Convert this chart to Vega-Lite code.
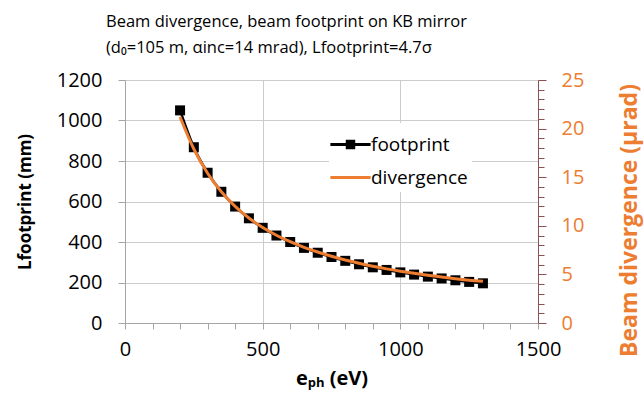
{
  "$schema": "https://vega.github.io/schema/vega-lite/v6.json",
  "width": 413,
  "height": 243,
  "autosize": {"type": "none"},
  "padding": {"left": 125, "top": 80, "right": 106, "bottom": 84},
  "background": "white",
  "title": {
    "text": ["Beam divergence, beam footprint on KB mirror", "(d₀=105 m, αinc=14 mrad), Lfootprint=4.7σ"],
    "anchor": "start",
    "frame": "group",
    "dx": -19,
    "offset": 14,
    "font": "Open Sans",
    "fontSize": 16.5,
    "fontWeight": "normal",
    "lineHeight": 26,
    "color": "#000000"
  },
  "config": {"view": {"stroke": null}},
  "datasets": {
    "main": [
      {"e": 200, "footprint": 1050, "divergence": 21.2},
      {"e": 250, "footprint": 868, "divergence": 17.9},
      {"e": 300, "footprint": 742, "divergence": 15.4},
      {"e": 350, "footprint": 648, "divergence": 13.5},
      {"e": 400, "footprint": 575, "divergence": 12.0},
      {"e": 450, "footprint": 517, "divergence": 10.8},
      {"e": 500, "footprint": 470, "divergence": 9.82},
      {"e": 550, "footprint": 432, "divergence": 9.03},
      {"e": 600, "footprint": 400, "divergence": 8.37},
      {"e": 650, "footprint": 371, "divergence": 7.79},
      {"e": 700, "footprint": 347, "divergence": 7.3},
      {"e": 750, "footprint": 326, "divergence": 6.87},
      {"e": 800, "footprint": 307, "divergence": 6.48},
      {"e": 850, "footprint": 290, "divergence": 6.14},
      {"e": 900, "footprint": 275, "divergence": 5.84},
      {"e": 950, "footprint": 262, "divergence": 5.57},
      {"e": 1000, "footprint": 250, "divergence": 5.33},
      {"e": 1050, "footprint": 239, "divergence": 5.11},
      {"e": 1100, "footprint": 229, "divergence": 4.91},
      {"e": 1150, "footprint": 220, "divergence": 4.73},
      {"e": 1200, "footprint": 211, "divergence": 4.56},
      {"e": 1250, "footprint": 203, "divergence": 4.41},
      {"e": 1300, "footprint": 196, "divergence": 4.3}
    ],
    "leg": [
      {"series": "footprint", "e": 0, "footprint": 0},
      {"series": "divergence", "e": 0, "footprint": 0}
    ]
  },
  "layer": [
    {
      "layer": [
        {
          "data": {"name": "main"},
          "mark": {"type": "line", "color": "#000000", "strokeWidth": 2.5, "interpolate": "monotone"},
          "encoding": {
            "x": {
              "field": "e", "type": "quantitative",
              "scale": {"domain": [0, 1500], "nice": false, "zero": false},
              "axis": {
                "values": [0,100,200,300,400,500,600,700,800,900,1000,1100,1200,1300,1400,1500],
                "tickCount": 16,
                "format": "d",
                "labelExpr": "datum.value % 500 === 0 ? datum.label : ''",
                "labelOverlap": false,
                "labelFlush": false,
                "grid": true,
                "gridColor": "#cccccc",
                "gridOpacity": {"condition": {"test": "datum.value % 500 === 0", "value": 1}, "value": 0},
                "domainColor": "#a6a6a6",
                "tickColor": "#a6a6a6",
                "tickSize": 6,
                "labelFont": "Open Sans",
                "labelFontSize": 20,
                "labelColor": "#000000",
                "labelPadding": 10,
                "title": "eₚₕ (eV)",
                "titleFont": "Open Sans",
                "titleFontSize": 20,
                "titleFontWeight": "bold",
                "titleColor": "#000000",
                "titlePadding": 9
              }
            },
            "y": {
              "field": "footprint", "type": "quantitative",
              "scale": {"domain": [0, 1200], "nice": false},
              "axis": {
                "values": [0, 200, 400, 600, 800, 1000, 1200],
                "tickCount": 7,
                "format": "d",
                "grid": true,
                "gridColor": "#cccccc",
                "domainColor": "#a6a6a6",
                "tickColor": "#a6a6a6",
                "tickSize": 7,
                "labelFont": "Open Sans",
                "labelFontSize": 20,
                "labelColor": "#000000",
                "labelPadding": 16,
                "title": "Lfootprint (mm)",
                "titleFont": "Open Sans",
                "titleFontSize": 17,
                "titleFontWeight": "bold",
                "titleColor": "#000000",
                "titlePadding": 22
              }
            }
          }
        },
        {
          "data": {"name": "main"},
          "mark": {"type": "point", "shape": "square", "filled": true, "size": 100, "color": "#000000", "opacity": 1},
          "encoding": {
            "x": {"field": "e", "type": "quantitative"},
            "y": {"field": "footprint", "type": "quantitative"}
          }
        },
        {
          "data": {"name": "leg"},
          "transform": [{"filter": "false"}],
          "mark": {"type": "point", "filled": true, "opacity": 1},
          "encoding": {
            "x": {"field": "e", "type": "quantitative"},
            "y": {"field": "footprint", "type": "quantitative"},
            "color": {
              "field": "series", "type": "nominal",
              "scale": {"domain": ["footprint", "divergence"], "range": ["#000000", "#ED7D31"]},
              "legend": {
                "title": null, "orient": "none", "legendX": 204, "legendY": 43,
                "fillColor": "white", "padding": 4, "symbolSize": 1225, "symbolStrokeWidth": 0,
                "symbolOpacity": 1, "labelFont": "Open Sans", "labelFontSize": 19,
                "labelColor": "#000000", "rowPadding": 5, "labelOffset": 3
              }
            },
            "shape": {
              "field": "series", "type": "nominal",
              "scale": {"domain": ["footprint", "divergence"], "range": ["M-1.15,-0.08H1.15V0.08H-1.15Z M-0.27,-0.27H0.27V0.27H-0.27Z", "M-1.15,-0.09H1.15V0.09H-1.15Z"]},
              "legend": {
                "title": null, "orient": "none", "legendX": 204, "legendY": 43,
                "fillColor": "white", "padding": 4, "symbolSize": 1225, "symbolStrokeWidth": 0,
                "symbolOpacity": 1, "labelFont": "Open Sans", "labelFontSize": 19,
                "labelColor": "#000000", "rowPadding": 5, "labelOffset": 3
              }
            }
          }
        }
      ]
    },
    {
      "data": {"name": "main"},
      "mark": {"type": "line", "color": "#ED7D31", "strokeWidth": 3, "interpolate": "monotone"},
      "encoding": {
        "x": {"field": "e", "type": "quantitative"},
        "y": {
          "field": "divergence", "type": "quantitative",
          "scale": {"domain": [0, 25], "nice": false},
          "axis": {
            "orient": "right",
            "values": [0,1,2,3,4,5,6,7,8,9,10,11,12,13,14,15,16,17,18,19,20,21,22,23,24,25],
            "tickCount": 26,
            "labelExpr": "datum.value % 5 === 0 ? datum.label : ''",
            "labelOverlap": false,
            "grid": false,
            "domainColor": "#8c5050",
            "tickColor": "#8c5050",
            "tickSize": {"condition": {"test": "datum.value % 5 === 0", "value": 8}, "value": 6},
            "labelFont": "Open Sans",
            "labelFontSize": 20,
            "labelColor": "#ED7D31",
            "labelPadding": 15,
            "title": "Beam divergence (µrad)",
            "titleAngle": 270,
            "titleY": 140,
            "titleFont": "Open Sans",
            "titleFontSize": 23,
            "titleFontWeight": "bold",
            "titleColor": "#ED7D31",
            "titlePadding": 58
          }
        }
      }
    }
  ],
  "resolve": {"scale": {"y": "independent"}}
}
